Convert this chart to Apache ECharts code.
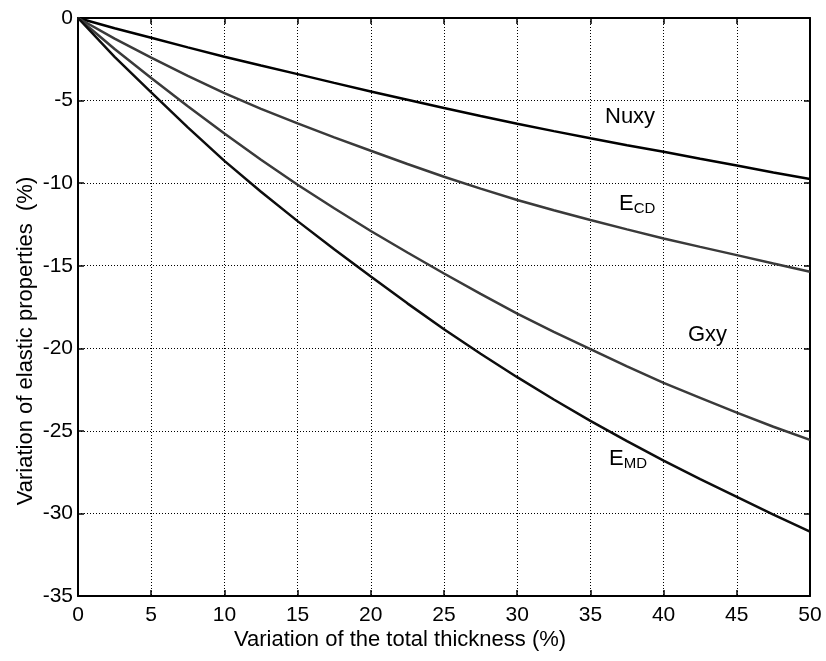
<!DOCTYPE html>
<html>
<head>
<meta charset="utf-8">
<script src="https://cdn.jsdelivr.net/npm/echarts@6/dist/echarts.min.js"></script>
<style>
  html, body { margin: 0; padding: 0; background: #fff; }
  #chart { width: 826px; height: 661px; }
</style>
</head>
<body>
<div id="chart"></div>
<script>
// Thickness variation (%) sampled every 2.5 %
const thickness = [0, 2.5, 5, 7.5, 10, 12.5, 15, 17.5, 20, 22.5, 25, 27.5, 30, 32.5, 35, 37.5, 40, 42.5, 45, 47.5, 50];

// Variation of elastic properties (%)
const nuxy = [0, -0.62, -1.2, -1.78, -2.35, -2.88, -3.4, -3.93, -4.45, -4.95, -5.45, -5.93, -6.4, -6.85, -7.28, -7.7, -8.1, -8.52, -8.93, -9.35, -9.75];
const eCD  = [0, -1.25, -2.4, -3.5, -4.55, -5.5, -6.38, -7.23, -8.04, -8.84, -9.61, -10.33, -11.02, -11.64, -12.23, -12.8, -13.35, -13.86, -14.36, -14.87, -15.37];
const gxy  = [0, -1.88, -3.63, -5.35, -7.0, -8.58, -10.1, -11.52, -12.9, -14.2, -15.47, -16.7, -17.9, -19.0, -20.05, -21.1, -22.1, -23.0, -23.9, -24.75, -25.55];
const eMD  = [0, -2.35, -4.5, -6.62, -8.65, -10.52, -12.3, -14.0, -15.65, -17.28, -18.85, -20.33, -21.75, -23.1, -24.4, -25.62, -26.8, -27.92, -29.0, -30.07, -31.1];

const pairs = (ys) => thickness.map((x, i) => [x, ys[i]]);

const FONT = '"Liberation Sans", Arial, sans-serif';
const chart = echarts.init(document.getElementById('chart'), null, { renderer: 'canvas' });

const dotted = { show: true, lineStyle: { color: '#000', type: [1, 2], width: 1 } };
const frame = { show: true, onZero: false, lineStyle: { color: '#000', width: 2 } };
const innerTicks = { show: true, inside: true, length: 6, lineStyle: { color: '#000', width: 1.5 } };
const tickFont = { fontFamily: FONT, fontSize: 21, color: '#000' };

function lineSeries(name, data, color) {
  return {
    name, type: 'line', data: pairs(data), showSymbol: false,
    lineStyle: { color, width: 2.5 }, animation: false, z: 3
  };
}

const subStyle = {
  b: { font: '22px ' + FONT, fill: '#000' },
  s: { font: '15px ' + FONT, fill: '#000', padding: [10, 0, 0, 0] }
};

chart.setOption({
  animation: false,
  backgroundColor: '#fff',
  grid: { left: 78, right: 16, top: 18, bottom: 65, containLabel: false },
  xAxis: [
    {
      type: 'value', min: 0, max: 50, interval: 5, position: 'bottom',
      axisLine: frame, axisTick: innerTicks,
      axisLabel: Object.assign({ margin: 9 }, tickFont),
      splitLine: dotted
    },
    {
      type: 'value', min: 0, max: 50, interval: 5, position: 'top',
      axisLine: frame, axisTick: innerTicks,
      axisLabel: { show: false }, splitLine: { show: false }
    }
  ],
  yAxis: [
    {
      type: 'value', min: -35, max: 0, interval: 5, position: 'left',
      axisLine: frame, axisTick: innerTicks,
      axisLabel: Object.assign({ margin: 5 }, tickFont),
      splitLine: dotted
    },
    {
      type: 'value', min: -35, max: 0, interval: 5, position: 'right',
      axisLine: frame, axisTick: innerTicks,
      axisLabel: { show: false }, splitLine: { show: false }
    }
  ],
  series: [
    lineSeries('Nuxy', nuxy, '#000000'),
    lineSeries('ECD', eCD, '#3a3a3a'),
    lineSeries('Gxy', gxy, '#3a3a3a'),
    lineSeries('EMD', eMD, '#0d0d0d')
  ],
  graphic: [
    // axis titles
    { type: 'text', x: 400, y: 639.5, z: 10, style: {
        text: 'Variation of the total thickness (%)', font: '22px ' + FONT, fill: '#000',
        align: 'center', verticalAlign: 'middle' } },
    { type: 'text', x: 26, y: 341, rotation: Math.PI / 2, z: 10, style: {
        text: 'Variation of elastic properties  (%)', font: '22px ' + FONT, fill: '#000',
        align: 'center', verticalAlign: 'middle' } },
    // curve labels
    { type: 'text', left: 605, top: 106, z: 10, style: { text: 'Nuxy', font: '22px ' + FONT, fill: '#000' } },
    { type: 'text', left: 619, top: 193, z: 10, style: { text: '{b|E}{s|CD}', rich: subStyle } },
    { type: 'text', left: 688, top: 324, z: 10, style: { text: 'Gxy', font: '22px ' + FONT, fill: '#000' } },
    { type: 'text', left: 609, top: 448, z: 10, style: { text: '{b|E}{s|MD}', rich: subStyle } }
  ]
});
</script>
</body>
</html>
